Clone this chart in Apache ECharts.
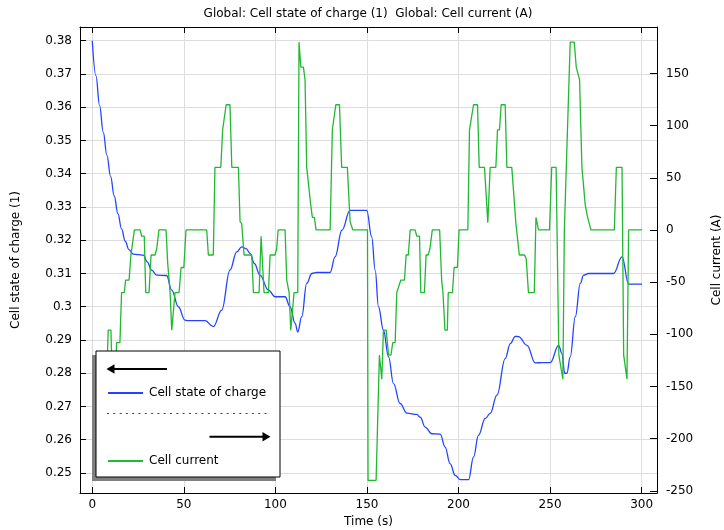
<!DOCTYPE html>
<html>
<head>
<meta charset="utf-8">
<script src="https://cdn.jsdelivr.net/npm/echarts@6/dist/echarts.min.js"></script>
<style>
html,body{margin:0;padding:0;background:#fff;}
#chart{width:724px;height:530px;}
</style>
</head>
<body>
<div id="chart"></div>
<script>
// ---- data ----
const titleText = 'Global: Cell state of charge (1)  Global: Cell current (A)';
const xName = 'Time (s)';
const leftName = 'Cell state of charge (1)';
const rightName = 'Cell current (A)';
const seriesNames = ['Cell state of charge', 'Cell current'];

const socTime = [0,2,4,6,8,10,12,14,16,18,20,22.4,25,27.9,30,32.4,35.2,40.6,43.4,47,50.6,52,61.6,66.1,70.7,75.2,78.9,81.6,84,86.2,88.5,91.6,96.2,99.8,105.3,108,110.8,112.2,114.4,117.1,119.9,122.6,129.9,132.6,136.3,140.8,149.9,152.6,154.5,156.3,159,161.8,164.5,168.1,171.8,177.2,179.1,181.8,185.4,190,192.7,195.4,198.2,200.9,205.5,208.2,210.9,214.6,217.3,221,225.5,228.3,231,232.8,237.4,241.9,245.6,250.1,254.7,256.5,258,259.2,261,263.8,266.5,268.3,271,284.7,289.3,292.9,300.2];
const socValue = [0.380,0.3695,0.3605,0.3525,0.3455,0.3392,0.3333,0.3280,0.3234,0.3197,0.3172,0.3158,0.3157,0.3155,0.3135,0.311,0.3095,0.3094,0.305,0.300,0.296,0.2958,0.2958,0.294,0.299,0.311,0.3165,0.318,0.3175,0.316,0.313,0.3095,0.305,0.303,0.303,0.300,0.295,0.2924,0.297,0.307,0.310,0.3103,0.3103,0.315,0.323,0.329,0.329,0.321,0.311,0.300,0.293,0.2849,0.2769,0.2709,0.268,0.2676,0.2668,0.2638,0.2618,0.2617,0.2578,0.2528,0.2493,0.248,0.248,0.2548,0.2613,0.2664,0.2679,0.2734,0.2844,0.2889,0.2911,0.2910,0.2884,0.2831,0.2832,0.2832,0.2884,0.2859,0.280,0.280,0.2849,0.297,0.307,0.3095,0.310,0.310,0.315,0.3068,0.3068];

const curTime = [0,7.8,8.7,10.2,10.9,12.6,13.3,15.1,16.0,17.5,18.2,20.1,21.1,22.0,23.0,26.1,27.0,28.4,29.2,31.0,32.1,34.3,35.2,36.4,40.3,41.2,42.5,43.4,44.3,45.2,47.4,48.5,50.0,51.2,62.5,63.4,66.1,67.0,70.2,71.2,72.1,73.1,75.2,76.2,79.8,80.7,81.6,82.9,87.1,88.0,91.1,92.2,93.1,93.8,96.2,97.1,99.8,100.7,101.5,105.3,106.2,107.5,108.4,109.3,110.2,112.2,112.9,113.9,115.3,116.2,117.1,118.0,119.3,120.2,121.3,122.2,129.9,131.1,132.0,133.0,135.0,136.2,139.3,140.8,142.3,150.3,150.6,155.0,156.8,158.1,159.0,160.5,161.8,163.1,164.1,165.4,166.3,167.3,168.5,170.5,171.4,172.6,173.6,176.3,177.2,178.7,179.4,181.4,182.3,183.4,184.4,185.7,189.7,190.8,191.5,192.6,193.9,194.4,196.7,197.6,199.4,200.3,205.1,206.0,207.0,208.2,210.4,211.3,214.2,216.0,217.3,220.4,221.3,222.4,223.3,225.5,226.4,229.1,230.6,231.3,232.2,233.2,236.1,237.0,238.2,241.4,242.3,243.0,243.7,249.7,250.9,253.3,254.8,255.8,257.0,257.8,258.8,261.0,263.2,264.3,265.2,266.1,267.4,268.3,269.2,270.5,271.5,272.3,285.1,286.2,289.3,290.2,291.1,292.0,292.9,300.2];
const curValue = [-144,-144,-96,-96,-144,-144,-108,-108,-60,-60,-48,-48,-24,-24,0,0,-6,-6,-60,-60,-24,-24,-18,0,0,-32,-60,-96,-96,-60,-60,-36,-36,0,0,-24,-24,60,60,96,96,120,120,60,60,8,6,-24,-24,-60,-60,-6,-6,-60,-60,-24,-24,-18,0,0,-48,-60,-96,-96,-60,-60,180,156,156,144,60,60,24,12,12,0,0,96,96,120,120,60,60,8,0,0,-240,-240,-120,-143,-96,-96,-120,-120,-108,-108,-60,-60,-48,-48,-24,-24,0,0,-6,-6,-60,-60,-24,-24,-18,0,0,-48,-60,-96,-96,-60,-60,-36,-36,0,0,96,96,120,120,60,60,7,60,60,96,96,120,120,60,60,24,7,7,-24,-24,-28,-60,-60,12,12,0,0,60,60,-120,-120,-143,0,0,180,180,156,156,144,60,60,24,12,12,0,0,60,60,-120,-120,-143,0,0];

const xRange = [-6.7, 308.4];
const leftRange = [0.24398, 0.38413];
const rightRange = [-252.1, 194.5];

// ---- build ----
const zip = (a, b) => a.map((v, i) => [v, b[i]]);
const FONT = 'DejaVu Sans';
const BLUE = '#2244ff';
const GREEN = '#22b833';
const edgeFmt = (step) => function (v) {
  const k = v / step;
  if (Math.abs(k - Math.round(k)) > 1e-6) return '';
  return String(+v.toFixed(6));
};

const chart = echarts.init(document.getElementById('chart'), null, {renderer: 'canvas'});
const axisCommon = {
  axisLine: {show: true, onZero: false, lineStyle: {color: '#000', width: 1}},
  axisTick: {show: true, inside: true, length: 6, lineStyle: {color: '#000'}},
  axisLabel: {fontFamily: FONT, fontSize: 12, color: '#000', showMinLabel: false, showMaxLabel: false},
  nameTextStyle: {fontFamily: FONT, fontSize: 12, color: '#000'}
};

chart.setOption({
  animation: false,
  backgroundColor: '#fff',
  title: {
    text: titleText, left: 368, top: 8, padding: 0, textAlign: 'center',
    textStyle: {fontFamily: FONT, fontSize: 12, fontWeight: 'normal', color: '#000'}
  },
  grid: {left: 80, right: 67, top: 27, bottom: 37, containLabel: false, outerBoundsMode: 'none'},
  legend: {
    data: seriesNames, orient: 'vertical', left: 107, top: 387, padding: 0, itemWidth: 35, itemHeight: 14,
    itemGap: 56, selectedMode: false, z: 10, itemStyle: {opacity: 0},
    textStyle: {fontFamily: FONT, fontSize: 12, color: '#000', padding: [0, 0, 0, 1]}
  },
  xAxis: [
    Object.assign({}, axisCommon, {
      type: 'value', position: 'bottom', min: xRange[0], max: xRange[1], splitNumber: 6,
      name: xName, nameLocation: 'middle', nameGap: 23,
      splitLine: {show: true, lineStyle: {color: '#dddddd', width: 1}},
      axisLabel: Object.assign({}, axisCommon.axisLabel, {margin: 6, formatter: edgeFmt(50)})
    }),
    Object.assign({}, axisCommon, {
      type: 'value', position: 'top', min: xRange[0], max: xRange[1], splitNumber: 6,
      splitLine: {show: false}, axisLabel: {show: false}
    })
  ],
  yAxis: [
    Object.assign({}, axisCommon, {
      type: 'value', position: 'left', min: leftRange[0], max: leftRange[1], splitNumber: 14,
      name: leftName, nameLocation: 'middle', nameGap: 58, nameRotate: 90,
      splitLine: {show: true, lineStyle: {color: '#dddddd', width: 1}},
      axisLabel: Object.assign({}, axisCommon.axisLabel, {margin: 8, formatter: edgeFmt(0.01)})
    }),
    Object.assign({}, axisCommon, {
      type: 'value', position: 'right', min: rightRange[0], max: rightRange[1], splitNumber: 9,
      name: rightName, nameLocation: 'middle', nameGap: 54, nameRotate: 90,
      splitLine: {show: false},
      axisTick: {show: true, inside: true, length: 7, lineStyle: {color: '#000'}},
      axisLabel: Object.assign({}, axisCommon.axisLabel, {margin: 9, formatter: edgeFmt(50)})
    })
  ],
  series: [
    {
      name: seriesNames[0], type: 'line', xAxisIndex: 0, yAxisIndex: 0,
      data: zip(socTime, socValue), symbol: 'none', showSymbol: false, smooth: 0.4, smoothMonotone: 'x',
      lineStyle: {color: BLUE, width: 1.3}, itemStyle: {color: BLUE}, z: 2
    },
    {
      name: seriesNames[1], type: 'line', xAxisIndex: 0, yAxisIndex: 1,
      data: zip(curTime, curValue), symbol: 'none', showSymbol: false,
      lineStyle: {color: GREEN, width: 1.3}, itemStyle: {color: GREEN}, z: 3
    }
  ],
  graphic: [
    {type: 'rect', z: 8, shape: {x: 92, y: 355, width: 184, height: 126}, style: {fill: '#808080'}},
    {type: 'rect', z: 9, shape: {x: 96, y: 351, width: 184, height: 126}, style: {fill: '#fff', stroke: '#000', lineWidth: 1}},
    {type: 'line', z: 10, shape: {x1: 113, y1: 369, x2: 167, y2: 369}, style: {stroke: '#000', lineWidth: 2}},
    {type: 'polygon', z: 10, shape: {points: [[106.5, 369], [114.5, 364.3], [114.5, 373.7]]}, style: {fill: '#000'}},
    {type: 'line', z: 10, shape: {x1: 107, y1: 413.5, x2: 267, y2: 413.5}, style: {stroke: '#444', lineWidth: 1, lineDash: [2, 4.3]}},
    {type: 'line', z: 10, shape: {x1: 209.5, y1: 436.7, x2: 263, y2: 436.7}, style: {stroke: '#000', lineWidth: 2}},
    {type: 'polygon', z: 10, shape: {points: [[270.5, 436.7], [262.5, 432], [262.5, 441.4]]}, style: {fill: '#000'}}
  ]
});
</script>
</body>
</html>
